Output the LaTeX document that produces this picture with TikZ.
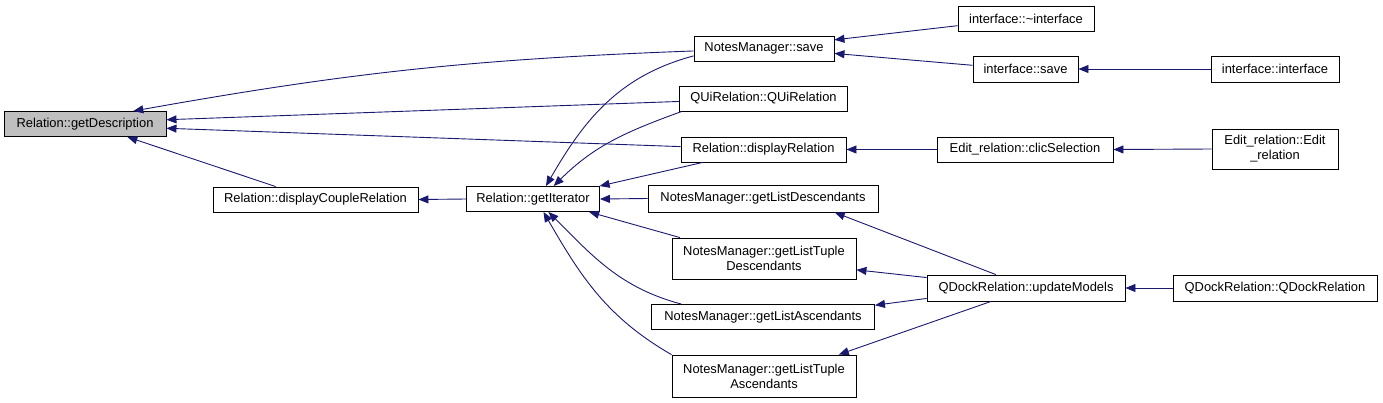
\documentclass[tikz,border=0pt]{standalone}
\usepackage{fontspec}
\setmainfont{Liberation Sans}
\usetikzlibrary{arrows.meta,positioning}

\definecolor{edgeblue}{HTML}{191970}
\definecolor{focusgray}{HTML}{BFBFBF}

\begin{document}
\begin{tikzpicture}[
  x=1pt, y=-1pt,
  font=\fontsize{12.9}{15}\selectfont,
  box/.style={
    draw=black,
    fill=white,
    align=center,
    inner sep=0pt,
    minimum height=25pt,
    line width=0.9pt,
  },
  arr/.style={
    -{Triangle[length=10pt,width=8pt]},
    draw=edgeblue,
    line width=0.9pt,
  },
]
  \useasboundingbox (0,0) rectangle (1383,402);
  % Left: the function itself and its direct callers
  \node[box, fill=focusgray, minimum width=162pt] (getdesc) at (85,124) {Relation::getDescription};
  \node[box, minimum width=205pt] (dcouple) at (315.5,199.5) {Relation::displayCoupleRelation};
  \node[box, minimum width=133pt] (iter) at (533,199) {Relation::getIterator};
  % Middle column
  \node[box, minimum width=140pt] (nmsave) at (764,48.5) {NotesManager::save};
  \node[box, minimum width=168pt] (qui) at (763.5,98.5) {QUiRelation::QUiRelation};
  \node[box, minimum width=165pt] (drel) at (763.5,149.5) {Relation::displayRelation};
  \node[box, minimum width=230pt, minimum height=27pt] (gld) at (763,198.5) {NotesManager::getListDescendants};
  \node[box, minimum width=184pt, minimum height=41pt] (gltd) at (764,258.5)
    {NotesManager::getListTuple\\Descendants};
  \node[box, minimum width=223pt] (gla) at (763,317) {NotesManager::getListAscendants};
  \node[box, minimum width=184pt, minimum height=42pt] (glta) at (764,376)
    {NotesManager::getListTuple\\Ascendants};
  % Right columns
  \node[box, minimum width=136pt] (ifdtor) at (1026,18.5) {interface::\char`~interface};
  \node[box, minimum width=105pt, minimum height=26pt] (ifsave) at (1025.5,69) {interface::save};
  \node[box, minimum width=128pt, minimum height=26pt] (ifctor) at (1275,69) {interface::interface};
  \node[box, minimum width=176pt] (clic) at (1025,149.5) {Edit\_relation::clicSelection};
  \node[box, minimum width=126pt, minimum height=40pt] (editrel) at (1275,149)
    {Edit\_relation::Edit\\\_relation};
  \node[box, minimum width=198pt, minimum height=26pt] (upd) at (1026,288) {QDockRelation::updateModels};
  \node[box, minimum width=204pt, minimum height=26pt] (qdock) at (1275,288) {QDockRelation::QDockRelation};

  % Calls into getDescription
  \draw[arr] (nmsave.182) to[bend right=4] (getdesc.15);
  \draw[arr] (qui.182) -- (getdesc.3);
  \draw[arr] (drel.178) -- (getdesc.-3);
  \draw[arr] (dcouple.162) -- (getdesc.-17);
  \draw[arr] (iter.west) -- (dcouple.east);
  % Calls into getIterator
  \draw[arr] (nmsave.186) to[out=195, in=60] (iter.45);
  \draw[arr] (qui.189) to[out=200, in=45] (iter.32);
  \draw[arr] (drel.192) -- (iter.11);
  \draw[arr] (gld.west) -- (iter.east);
  \draw[arr] (gltd.166) -- (iter.-13);
  \draw[arr] (gla.171) to[out=165, in=-45] (iter.-40);
  \draw[arr] (glta.167) to[out=150, in=-60] (iter.-51);
  % Right side
  \draw[arr] (ifdtor.186) -- (nmsave.7);
  \draw[arr] (ifsave.176) -- (nmsave.-4);
  \draw[arr] (ifctor.west) -- (ifsave.east);
  \draw[arr] (clic.west) -- (drel.east);
  \draw[arr] (editrel.west) -- (clic.east);
  \foreach \a/\t/\b in {156/gld/-11, 174/gltd/-7, 186/gla/6, 201/glta/16}
    {\draw[arr] (upd.\a) -- (\t.\b);}
  \draw[arr] (qdock.west) -- (upd.east);
\end{tikzpicture}
\end{document}
